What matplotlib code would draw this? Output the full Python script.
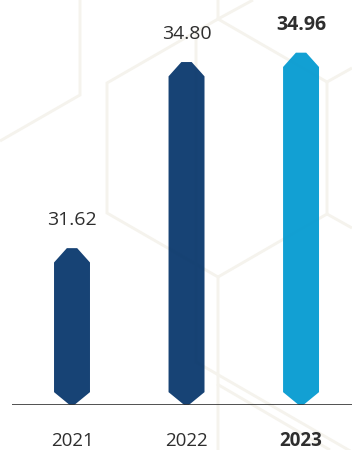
import matplotlib

matplotlib.use('Agg')

import matplotlib.pyplot as plt
from matplotlib.patches import Polygon

# data
years = ['2021', '2022', '2023']
values = [31.62, 34.80, 34.96]
value_labels = ['31.62', '34.80', '34.96']
bar_colors = ['#05346a', '#05346a', '#0099d0']
highlight = [False, False, True]

# decorative hexagon lines of the background (pixel coords, y down)
hex_lines = [
    [(80, 0), (80, 95), (0, 141)],
    [(253, 0), (218, 19), (218, 0)],
    [(218, 19), (327, 82), (352, 68)],
    [(218, 19), (107, 83), (107, 213), (218, 277), (218, 450)],
    [(218, 277), (327, 214), (327, 82)],
    [(327, 214), (352, 228)],
    [(196, 31), (196, 362), (352, 452)],
    [(217, 384), (330, 450)],
]

plt.rcParams['font.family'] = ['Open Sans', 'DejaVu Sans']

fig = plt.figure(figsize=(3.52, 4.5), dpi=100)

# background layer
bg = fig.add_axes([0, 0, 1, 1], zorder=0)
bg.set_xlim(0, 352)
bg.set_ylim(450, 0)
bg.axis('off')
for seg in hex_lines:
    xs = [p[0] for p in seg]
    ys = [p[1] for p in seg]
    bg.plot(xs, ys, color='#f5f3ed', lw=2.1, solid_joinstyle='miter', solid_capstyle='butt')

# main axes
ax = fig.add_axes([12 / 352, 0.1, 340 / 352, 0.9], zorder=1)
ax.patch.set_visible(False)
base = 28.94
ax.set_ylim(base, 35.86)
ax.set_xlim(-0.524, 2.445)

half_w = 0.157
flat_top = 0.045
flat_bot = 0.02
tip_top = 0.245
tip_bot = 0.22

for i, (v, c) in enumerate(zip(values, bar_colors)):
    verts = [(i - flat_top, v), (i + flat_top, v),
             (i + half_w, v - tip_top), (i + half_w, base + tip_bot),
             (i + flat_bot, base), (i - flat_bot, base),
             (i - half_w, base + tip_bot), (i - half_w, v - tip_top)]
    ax.add_patch(Polygon(verts, closed=True, facecolor=c, edgecolor='none', alpha=0.93, zorder=2))

for i, (v, lab, hl) in enumerate(zip(values, value_labels, highlight)):
    ax.annotate(lab, (i, v), xytext=(0, 20), textcoords='offset points',
                ha='center', va='center', fontsize=14, color='#2e2e2e',
                fontweight='bold' if hl else 'normal', zorder=5)
    ax.annotate(years[i], (i, base), xytext=(0, -26), textcoords='offset points',
                ha='center', va='center', fontsize=13.5, color='#2e2e2e',
                fontweight='bold' if hl else 'normal', annotation_clip=False, zorder=5)

ax.axhline(base, color='#333333', lw=1.2, zorder=3)

for s in ax.spines.values():
    s.set_visible(False)
ax.set_xticks([])
ax.set_yticks([])

fig.savefig('out.png', dpi=100)
